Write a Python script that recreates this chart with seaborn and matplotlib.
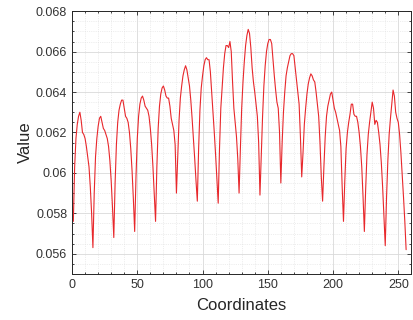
import numpy as np
import pandas as pd
import matplotlib
matplotlib.use("Agg")
import matplotlib.pyplot as plt
import matplotlib.ticker as mticker
import seaborn as sns

# values, one row per 16-sample period
coords = list(range(1, 257))
values = [
    0.0576, 0.0603, 0.0617, 0.0624, 0.0628, 0.0630, 0.0626, 0.0620, 0.0619, 0.0617, 0.0613, 0.0608, 0.0603, 0.0593, 0.0580, 0.0563,
    0.0590, 0.0608, 0.0617, 0.0623, 0.0627, 0.0628, 0.0625, 0.0622, 0.0621, 0.0619, 0.0617, 0.0613, 0.0606, 0.0596, 0.0583, 0.0568,
    0.0595, 0.0614, 0.0625, 0.0631, 0.0634, 0.0636, 0.0636, 0.0632, 0.0628, 0.0627, 0.0625, 0.0620, 0.0612, 0.0601, 0.0587, 0.0571,
    0.0598, 0.0617, 0.0628, 0.0634, 0.0637, 0.0638, 0.0636, 0.0633, 0.0632, 0.0631, 0.0628, 0.0622, 0.0614, 0.0603, 0.0590, 0.0576,
    0.0603, 0.0622, 0.0633, 0.0639, 0.0642, 0.0643, 0.0641, 0.0638, 0.0637, 0.0637, 0.0633, 0.0627, 0.0624, 0.0621, 0.0614, 0.0590,
    0.0608, 0.0626, 0.0637, 0.0643, 0.0648, 0.0651, 0.0653, 0.0651, 0.0647, 0.0643, 0.0636, 0.0627, 0.0617, 0.0607, 0.0596, 0.0586,
    0.0612, 0.0631, 0.0642, 0.0648, 0.0653, 0.0656, 0.0657, 0.0656, 0.0656, 0.0650, 0.0640, 0.0630, 0.0620, 0.0609, 0.0597, 0.0585,
    0.0612, 0.0632, 0.0642, 0.0652, 0.0659, 0.0663, 0.0663, 0.0662, 0.0665, 0.0660, 0.0645, 0.0632, 0.0625, 0.0618, 0.0607, 0.0590,
    0.0612, 0.0632, 0.0645, 0.0655, 0.0663, 0.0668, 0.0671, 0.0669, 0.0662, 0.0652, 0.0645, 0.0640, 0.0634, 0.0628, 0.0615, 0.0589,
    0.0608, 0.0628, 0.0643, 0.0653, 0.0660, 0.0664, 0.0666, 0.0666, 0.0664, 0.0656, 0.0648, 0.0641, 0.0635, 0.0632, 0.0620, 0.0595,
    0.0615, 0.0630, 0.0640, 0.0648, 0.0652, 0.0655, 0.0658, 0.0659, 0.0659, 0.0658, 0.0652, 0.0646, 0.0640, 0.0634, 0.0618, 0.0598,
    0.0610, 0.0624, 0.0632, 0.0639, 0.0644, 0.0647, 0.0649, 0.0648, 0.0646, 0.0645, 0.0640, 0.0634, 0.0628, 0.0615, 0.0598, 0.0586,
    0.0603, 0.0618, 0.0628, 0.0633, 0.0636, 0.0639, 0.0640, 0.0636, 0.0632, 0.0630, 0.0627, 0.0624, 0.0621, 0.0613, 0.0593, 0.0576,
    0.0596, 0.0612, 0.0620, 0.0625, 0.0629, 0.0634, 0.0634, 0.0629, 0.0628, 0.0628, 0.0625, 0.0620, 0.0613, 0.0603, 0.0588, 0.0571,
    0.0592, 0.0609, 0.0619, 0.0625, 0.0630, 0.0635, 0.0632, 0.0624, 0.0626, 0.0625, 0.0620, 0.0614, 0.0605, 0.0593, 0.0579, 0.0564,
    0.0588, 0.0606, 0.0619, 0.0627, 0.0634, 0.0641, 0.0638, 0.0630, 0.0627, 0.0625, 0.0619, 0.0610, 0.0599, 0.0588, 0.0576, 0.0562,
]
xticks = [0, 50, 100, 150, 200, 250]
yticks = [0.056, 0.058, 0.06, 0.062, 0.064, 0.066, 0.068]

df = pd.DataFrame({"Coordinates": coords, "Value": values})

sns.set_style("ticks")
plt.rcParams["font.family"] = ["Liberation Sans", "DejaVu Sans"]

fig = plt.figure(figsize=(4.14, 3.2), dpi=100)
ax = fig.add_axes([0.174, 0.144, 0.818, 0.821])

sns.lineplot(data=df, x="Coordinates", y="Value", color="#e8282c", linewidth=0.8, ax=ax)

ax.set_xlim(0, 259.5)
ax.set_ylim(0.055, 0.068)
ax.set_xticks(xticks)
ax.set_yticks(yticks)
ax.yaxis.set_major_formatter(mticker.FormatStrFormatter("%g"))
ax.xaxis.set_minor_locator(mticker.MultipleLocator(10))
ax.yaxis.set_minor_locator(mticker.MultipleLocator(0.0005))

ax.grid(which="major", color="#d9d9d9", linewidth=0.6)
ax.grid(which="minor", color="#dedede", linewidth=0.5, linestyle=":")
ax.set_axisbelow(True)

for s in ax.spines.values():
    s.set_visible(True)
    s.set_color("#262626")
    s.set_linewidth(0.7)
ax.tick_params(which="both", direction="in", top=True, right=True, colors="#262626",
               labelsize=9, length=3, width=0.6)
ax.tick_params(which="minor", length=1.5)
ax.tick_params(labelcolor="#333333")

ax.set_xlabel("Coordinates", fontsize=12, color="#262626", labelpad=5)
ax.set_ylabel("Value", fontsize=12, color="#262626", labelpad=2)

fig.savefig("out.png", dpi=100)
